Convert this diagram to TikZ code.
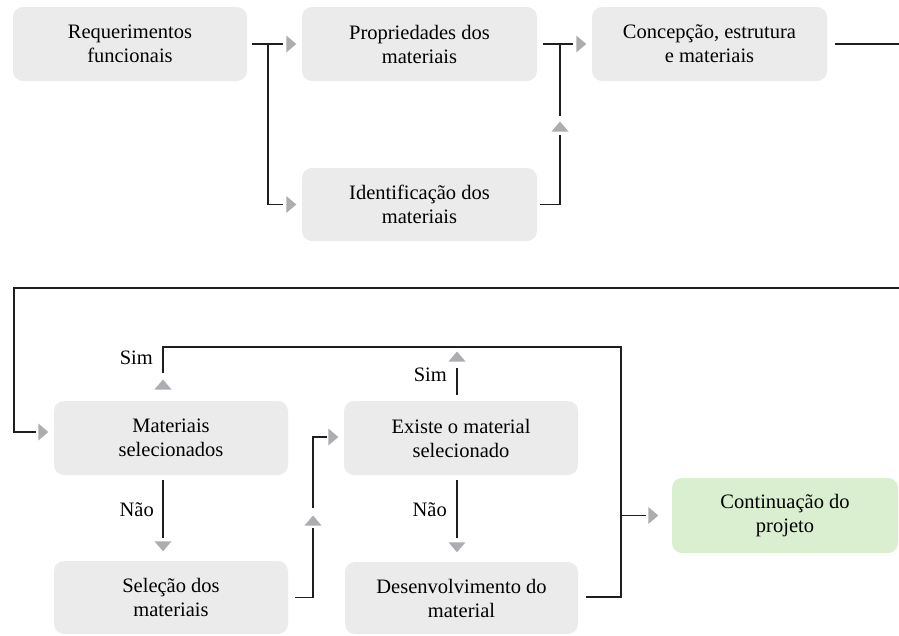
\documentclass[tikz,border=0pt]{standalone}
\usepackage{fontspec}
\setmainfont{Liberation Serif}
\usetikzlibrary{calc}
\definecolor{boxgray}{RGB}{235,235,235}
\definecolor{boxgreen}{RGB}{218,238,208}
\definecolor{tipgray}{RGB}{172,172,177}
\definecolor{linedark}{RGB}{30,30,30}
\begin{document}
\begin{tikzpicture}[x=1pt,y=-1pt,
  box/.style={fill=boxgray, rounded corners=10pt, minimum width=234pt,
    minimum height=74pt, align=center, inner sep=0pt,
    font=\fontsize{20.5}{24}\selectfont},
  conn/.style={draw=linedark, line width=1.7pt},
  % grey triangular head, tip at the origin, pointing along +x
  ahead/.pic={\fill[tipgray] (0.5,0) -- (-9.5,-8.5) -- (-9.5,8.5) -- cycle;},
  lbl/.style={font=\fontsize{20.5}{24}\selectfont, inner sep=0pt, anchor=east}]

\useasboundingbox (0,0) rectangle (899,635);

% upper row
\node[box] (req) at (130,44) {Requerimentos\\funcionais};
\node[box, minimum width=235pt] (prop) at (419.5,44) {Propriedades dos\\materiais};
\node[box, minimum width=235pt] (conc) at (709.5,44) {Concepção, estrutura\\e materiais};
\node[box, minimum width=235pt, minimum height=73pt] (ident) at (419.5,204.5) {Identificação dos\\materiais};

% lower part
\node[box] (matsel) at (171,438) {Materiais\\selecionados};
\node[box] (existe) at (461,438) {Existe o material\\selecionado};
\node[box, minimum height=73pt] (selec) at (171,597.5) {Seleção dos\\materiais};
\node[box, minimum width=233pt, minimum height=72pt] (desenv) at (461.5,598) {Desenvolvimento do\\material};
\node[box, fill=boxgreen, minimum width=226pt, minimum height=75pt] (cont) at (785,515.5) {Continuação do\\projeto};

% junctions and bends
\coordinate (j1) at (268,44);
\coordinate (j2) at (560,44);
\coordinate (m2) at (560,122);
\coordinate (wrapR) at (899,44);
\coordinate (wrapR2) at (899,288);
\coordinate (wrapL) at (14,288);
\coordinate (busT) at (621,347);
\coordinate (busB) at (621,597);
\coordinate (colL) at (163,0);
\coordinate (colR) at (457,0);
\coordinate (simTip) at (163,380);
\coordinate (simTipR) at (457,352);
\coordinate (riseTip) at (313,516);
\coordinate (dEnd) at ($(desenv.east)+(8,0)$);
\coordinate (sEnd) at ($(selec.east)+(7,0)$);

% upper connectors
\draw[conn] ([xshift=5pt]req.east) -- (j1);
\draw[conn, shorten >=19pt] (j1) -- (prop.west);
\pic at ($(prop.west)+(-6,0)$) {ahead};
\draw[conn, shorten >=19pt] (j1) |- (ident.west);
\pic at ($(ident.west)+(-6,0)$) {ahead};
\draw[conn] ([xshift=6pt]prop.east) -- (j2);
\draw[conn, shorten >=19pt] (j2) -- (conc.west);
\pic at ($(conc.west)+(-6,0)$) {ahead};
\draw[conn, shorten >=13pt] ([xshift=3pt]ident.east) -| (m2);
\pic[rotate=90] at (m2) {ahead};
\draw[conn] ($(m2)+(0,-6)$) -- (j2);

% wrap to the lower part
\draw[conn] ([xshift=8pt]conc.east) -- (wrapR);
\draw[conn, shorten >=18pt] (wrapR2) -- (wrapL) |- ([yshift=6pt]matsel.west);
\pic at ($(matsel.west)+(-6,-6)$) {ahead};

% Sim / Não branches
\pic[rotate=90] at (simTip) {ahead};
\draw[conn] ($(simTip)+(0,-7)$) |- (busT) -- (busB) -- (dEnd |- busB);
\draw[conn, shorten <=6pt, shorten >=21pt] (existe.north -| colR) -- (busT -| colR);
\pic[rotate=90] at (simTipR) {ahead};
\draw[conn, shorten <=5pt, shorten >=23pt] (matsel.south -| colL) -- (selec.north -| colL);
\pic[rotate=-90] at ($(selec.north -| colL)+(0,-10)$) {ahead};
\draw[conn, shorten <=5pt, shorten >=24pt] (existe.south -| colR) -- (desenv.north -| colR);
\pic[rotate=-90] at ($(desenv.north -| colR)+(0,-10)$) {ahead};
\draw[conn, shorten >=12pt] (sEnd) -| (riseTip);
\pic[rotate=90] at (riseTip) {ahead};
\draw[conn, shorten >=17pt] ($(riseTip)+(0,-8)$) |- ([yshift=1pt]existe.west);
\pic at ($(existe.west)+(-6,-1)$) {ahead};
\draw[conn, shorten >=26pt] (busT |- cont.west) -- (cont.west);
\pic at ($(cont.west)+(-14,0)$) {ahead};

% labels
\node[lbl] (simL) at (153,358) {Sim};
\node[lbl] (simR) at (447,375) {Sim};
\node[lbl] (naoL) at (154,510) {Não};
\node[lbl] (naoR) at (447,510) {Não};
\end{tikzpicture}
\end{document}
